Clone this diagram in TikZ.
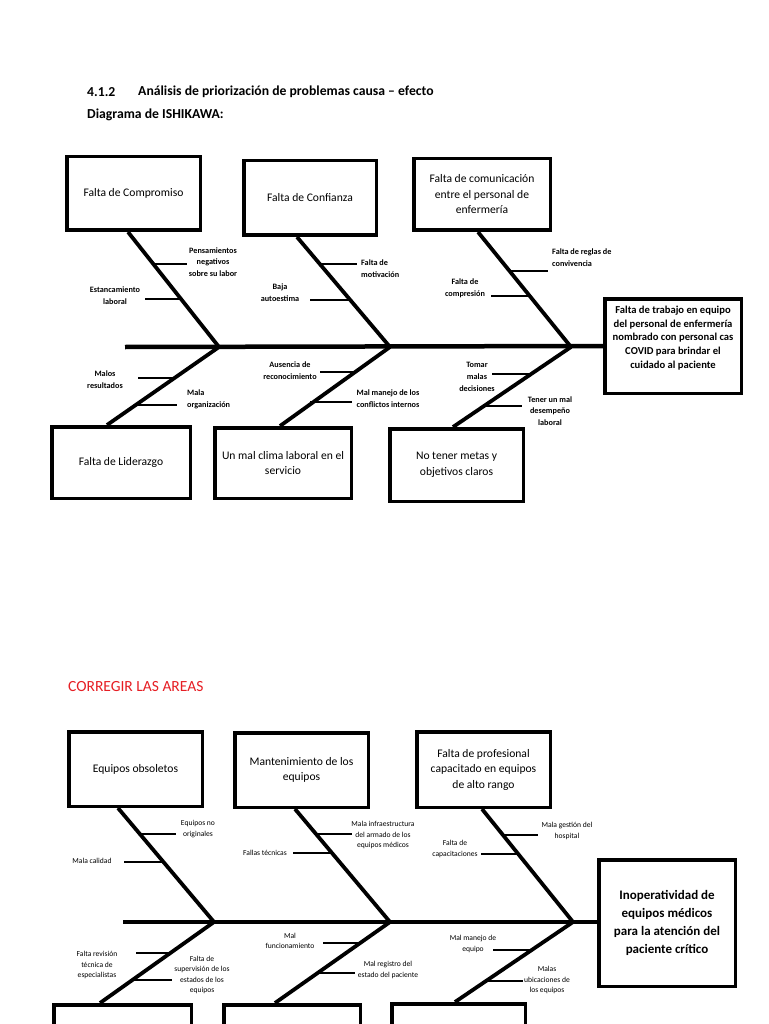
\documentclass[tikz,border=0pt]{standalone}
\usepackage{fontspec}
\setmainfont{Carlito}
\usetikzlibrary{calc}
\definecolor{redtitle}{RGB}{230,30,36}
\begin{document}
\begin{tikzpicture}[x=1pt,y=-1pt,
  cbox/.style={draw, line width=3.5pt, inner sep=0pt, align=center, font=\fontsize{11.6}{15.5}\selectfont},
  bone/.style={line width=3.8pt},
  spine/.style={line width=4.5pt},
  tickln/.style={line width=2.6pt},
  lblA/.style={font=\fontsize{8.2}{11.8}\selectfont\bfseries, align=center, inner sep=0pt},
  lblB/.style={font=\fontsize{7.6}{10.4}\selectfont, align=center, inner sep=0pt},
  hdr/.style={font=\fontsize{13.7}{15}\selectfont\bfseries, anchor=west, inner sep=0pt}
]
\useasboundingbox (0,0) rectangle (768,1024);
\clip (0,0) rectangle (768,1024);
\fill[white] (0,0) rectangle (768,1024);

% ---------- headings ----------
\node[hdr] (h1) at (87,92) {4.1.2};
\node[hdr] (h2) at (138,92) {Análisis de priorización de problemas causa – efecto};
\node[hdr] (h3) at (87,115) {Diagrama de ISHIKAWA:};
\node[hdr, font=\fontsize{15.5}{17}\selectfont, text=redtitle] (h4) at (68,687) {CORREGIR LAS AREAS};

% ================= TOP DIAGRAM =================
\node[cbox, minimum width=133.5pt, minimum height=73.5pt] (c1) at (133.5,193.5) {Falta de Compromiso};
\node[cbox, minimum width=132.5pt, minimum height=74.5pt] (c2) at (310,198) {Falta de Confianza};
\node[cbox, minimum width=136.5pt, minimum height=71.5pt] (c3) at (482,194.5) {Falta de comunicación\\entre el personal de\\enfermería};
\node[cbox, minimum width=136.5pt, minimum height=94.5pt] (e1) at (673,346) {};
\node[align=center, inner sep=0pt, font=\fontsize{10.6}{13.7}\selectfont\bfseries] (e1t) at (673,338) {Falta de trabajo en equipo\\del personal de enfermería\\nombrado con personal cas\\COVID para brindar el\\cuidado al paciente};
\node[cbox, minimum width=138.5pt, minimum height=71.5pt] (c4) at (121,462.5) {Falta de Liderazgo};
\node[cbox, minimum width=136.5pt, minimum height=70.5pt] (c5) at (283,463) {Un mal clima laboral en el\\servicio};
\node[cbox, minimum width=133.5pt, minimum height=72.5pt] (c6) at (456.5,465) {No tener metas y\\objetivos claros};

\coordinate (s1) at (125,347);
\coordinate (j1) at (219,347);
\coordinate (j2) at (390,347);
\coordinate (j3) at (571,347);
\draw[spine] (s1) -- (e1.west);

\draw[bone] ([xshift=-5.5pt]c1.south) -- (j1);
\draw[bone] ([xshift=-13pt]c2.south) -- (j2);
\draw[bone] ([xshift=-4pt]c3.south) -- (j3);
\draw[bone] (j1) -- ([xshift=-14pt]c4.north);
\draw[bone] (j2) -- ([xshift=-3pt]c5.north);
\draw[bone] (j3) -- ([xshift=-3.5pt]c6.north);

% ticks top
\coordinate (t1a) at (153.3,264); \coordinate (t1b) at (187,264);
\coordinate (t2a) at (145,299);   \coordinate (t2b) at (181,299);
\coordinate (t3a) at (319.2,264); \coordinate (t3b) at (357,264);
\coordinate (t4a) at (310,300);   \coordinate (t4b) at (349.9,300);
\coordinate (t5a) at (509,271);   \coordinate (t5b) at (548,271);
\coordinate (t6a) at (491,296);   \coordinate (t6b) at (529.4,296);
\coordinate (t7a) at (138,378);   \coordinate (t7b) at (173.3,378);
\coordinate (t8a) at (133.5,405); \coordinate (t8b) at (177,405);
\coordinate (t9a) at (320,372);   \coordinate (t9b) at (353.8,372);
\coordinate (t10a) at (310.4,402); \coordinate (t10b) at (352,402);
\coordinate (t11a) at (492,374);  \coordinate (t11b) at (531.2,374);
\coordinate (t12a) at (484,406);  \coordinate (t12b) at (522,406);
\foreach \i in {1,...,12} { \draw[tickln] (t\i a) -- (t\i b); }

\node[lblA] (l1) at (213,262) {Pensamientos\\negativos\\sobre su labor};
\node[lblA] (l2) at (115,296) {Estancamiento\\laboral};
\node[lblA, anchor=west, align=left] (l3) at (361,269) {Falta de\\motivación};
\node[lblA] (l4) at (280,293) {Baja\\autoestima};
\node[lblA, anchor=west, align=left] (l5) at (552,258) {Falta de reglas de\\convivencia};
\node[lblA] (l6) at (465,288) {Falta de\\compresión};
\node[lblA] (l7) at (105,380) {Malos\\resultados};
\node[lblA, anchor=west, align=left] (l8) at (187,399) {Mala\\organización};
\node[lblA] (l9) at (290,371) {Ausencia de\\reconocimiento};
\node[lblA] (l10) at (388,399) {Mal manejo de los\\conflictos internos};
\node[lblA] (l11) at (477,377) {Tomar\\malas\\decisiones};
\node[lblA] (l12) at (550,411) {Tener un mal\\desempeño\\laboral};

% ================= BOTTOM DIAGRAM =================
\node[cbox, minimum width=133.5pt, minimum height=74.5pt] (d1) at (135.5,769) {Equipos obsoletos};
\node[cbox, minimum width=133.5pt, minimum height=74.5pt] (d2) at (301.5,770) {Mantenimiento de los\\equipos};
\node[cbox, minimum width=133.5pt, minimum height=75.5pt] (d3) at (483.5,769.5) {Falta de profesional\\capacitado en equipos\\de alto rango};
\node[cbox, minimum width=136.5pt, minimum height=126.5pt, font=\fontsize{13}{18}\selectfont\bfseries] (eB) at (667,923) {Inoperatividad de\\equipos médicos\\para la atención del\\paciente crítico};
\node[cbox, minimum width=137.5pt, minimum height=73.5pt] (d4) at (122.5,1041.5) {};
\node[cbox, minimum width=136.5pt, minimum height=73.5pt] (d5) at (292,1041.5) {};
\node[cbox, minimum width=133.5pt, minimum height=73.5pt] (d6) at (458.5,1040.5) {};

\coordinate (s2) at (123,922);
\coordinate (k1) at (214,922);
\coordinate (k2) at (390,922);
\coordinate (k3) at (573,922);
\draw[spine] (s2) -- (k3) -- (k3 -| eB.west);

\draw[bone] ([xshift=-17.5pt]d1.south) -- (k1);
\draw[bone] ([xshift=-6.5pt]d2.south) -- (k2);
\draw[bone] ([xshift=-1.5pt]d3.south) -- (k3);
\draw[bone] (k1) -- ([xshift=-22.5pt]d4.north);
\draw[bone] (k2) -- ([xshift=-17pt]d5.north);
\draw[bone] (k3) -- ([xshift=-3.5pt]d6.north);

\coordinate (u1a) at (139.9,834); \coordinate (u1b) at (176,834);
\coordinate (u2a) at (124,862);   \coordinate (u2b) at (163.5,862);
\coordinate (u3a) at (316,834);   \coordinate (u3b) at (352,834);
\coordinate (u4a) at (293,853);   \coordinate (u4b) at (332,853);
\coordinate (u5a) at (503,835);   \coordinate (u5b) at (538,835);
\coordinate (u6a) at (481,854);   \coordinate (u6b) at (518.2,854);
\coordinate (u7a) at (136,953);   \coordinate (u7b) at (169.8,953);
\coordinate (u8a) at (131.4,980); \coordinate (u8b) at (172,980);
\coordinate (u9a) at (323,943);   \coordinate (u9b) at (359.8,943);
\coordinate (u10a) at (316.7,973); \coordinate (u10b) at (355,973);
\coordinate (u11a) at (493,950);  \coordinate (u11b) at (530.6,950);
\coordinate (u12a) at (483.7,981); \coordinate (u12b) at (523,981);
\foreach \i in {1,...,12} { \draw[tickln] (u\i a) -- (u\i b); }

\node[lblB] (m1) at (198,829) {Equipos no\\originales};
\node[lblB] (m2) at (92,861) {Mala calidad};
\node[lblB] (m3) at (383,835) {Mala infraestructura\\del armado de los\\equipos médicos};
\node[lblB] (m4) at (265,853) {Fallas técnicas};
\node[lblB] (m5) at (567,831) {Mala gestión del\\hospital};
\node[lblB] (m6) at (455,849) {Falta de\\capacitaciones};
\node[lblB] (m7) at (97,965) {Falta revisión\\técnica de\\especialistas};
\node[lblB] (m8) at (202,975) {Falta de\\supervisión de los\\estados de los\\equipos};
\node[lblB] (m9) at (290,941) {Mal\\funcionamiento};
\node[lblB] (m10) at (388,970) {Mal registro del\\estado del paciente};
\node[lblB] (m11) at (473,944) {Mal manejo de\\equipo};
\node[lblB] (m12) at (547,980) {Malas\\ubicaciones de\\los equipos};
\end{tikzpicture}
\end{document}
